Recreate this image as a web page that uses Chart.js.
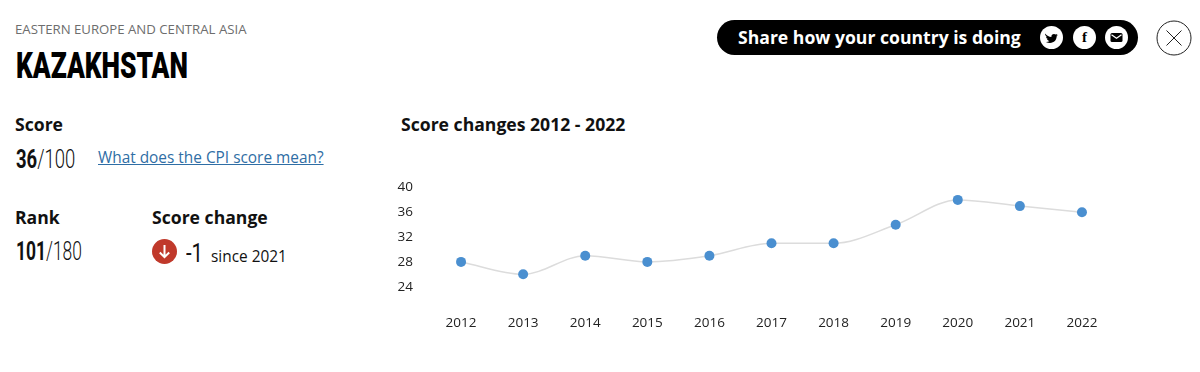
<!DOCTYPE html>
<html lang="en">
<head>
  <meta charset="UTF-8" />
  <title>Kazakhstan - CPI score</title>
  <script src="https://cdn.jsdelivr.net/npm/chart.js"></script>
  <style>
    html, body { margin: 0; padding: 0; background: #fff; }
    body { position: relative; width: 1200px; height: 372px; overflow: hidden; font-family: "Open Sans", sans-serif; color: #111; }
    .abs { position: absolute; white-space: nowrap; line-height: 1; }
    .head { font-weight: 700; font-size: 17.600px; }
    /* no condensed font installed, so squeeze Roboto sideways */
    .narrow { font-family: Roboto, sans-serif; transform-origin: left top; }
    .big { font-size: 26px; font-weight: 300; }
    .big b { font-weight: 700; }
    #chart-box { position: absolute; left: 395px; top: 170px; width: 723px; height: 170px; }
    #share { position: absolute; left: 717px; top: 20px; width: 421px; height: 35px; background: #000; border-radius: 18px; }
    #share span { position: absolute; left: 21px; top: 7px; color: #fff; font-weight: 700; font-size: 17.600px; line-height: 21px; white-space: nowrap; }
    .icon { position: absolute; top: 6px; width: 23px; height: 23px; border-radius: 50%; background: #fff; }
  </style>
</head>
<body>
  <!-- Header -->
  <div class="abs" style="left:15px;top:23px;font-size:13.200px;color:#6d6d6d;">EASTERN EUROPE AND CENTRAL ASIA</div>
  <div class="abs narrow" style="left:16px;top:47px;font-size:37px;font-weight:900;color:#000;transform:scaleX(0.71);">KAZAKHSTAN</div>

  <!-- Share button -->
  <div id="share">
    <span>Share how your country is doing</span>
    <div class="icon" style="left:323px;">
      <svg width="23" height="23" viewBox="0 0 23 23"><path d="M5 7.500c2 2.200 4 3.300 6.400 3.400-.4-2.400 2.600-4 4.300-2.300l1.800-.6-1 1.600 1.300-.3-1.200 1.300c.1 4.200-4.300 8.300-10.800 5.400 1.500.1 2.700-.3 3.700-1.100-1.300-.1-2.100-.7-2.500-1.800h1.100c-1.300-.5-2-1.400-2-2.700l1.100.3C5.400 9.900 5 8.800 5 7.500z" fill="#000"/></svg>
    </div>
    <div class="icon" style="left:356px;">
      <div style="text-align:center;font:700 15px/23px 'Liberation Serif',serif;color:#000;">f</div>
    </div>
    <div class="icon" style="left:388px;">
      <svg width="23" height="23" viewBox="0 0 23 23"><rect x="5.500" y="7" width="12" height="9" rx="1.500" fill="#000"/><path d="M6.500 8.800l5 3.500 5-3.500" fill="none" stroke="#fff" stroke-width="1.300"/></svg>
    </div>
  </div>
  <svg class="abs" style="left:1155.500px;top:19.500px;" width="36" height="36" viewBox="0 0 36 36">
    <circle cx="18" cy="18" r="17" fill="#fff" stroke="#222" stroke-width="1"/>
    <path d="M10.500 10.500l15 15M25.500 10.500l-15 15" stroke="#222" stroke-width="1" fill="none"/>
  </svg>

  <!-- Left column -->
  <div class="abs head" style="left:15px;top:116px;">Score</div>
  <div class="abs narrow big" style="left:16px;top:146px;transform:scaleX(0.71);"><b>36</b>/100</div>
  <a class="abs" style="left:98px;top:150px;font-size:15.400px;color:#2f6ea5;text-decoration:underline;">What does the CPI score mean?</a>

  <div class="abs head" style="left:15px;top:209px;">Rank</div>
  <div class="abs narrow big" style="left:16px;top:238px;transform:scaleX(0.67);"><b>101</b>/180</div>

  <div class="abs head" style="left:152px;top:209px;">Score change</div>
  <svg class="abs" style="left:152px;top:239px;" width="25" height="25" viewBox="0 0 25 25">
    <circle cx="12.500" cy="12.500" r="12.500" fill="#c0392b"/>
    <path d="M12.500 6v12M7.800 13.500l4.700 4.700 4.700-4.700" stroke="#fff" stroke-width="2" fill="none"/>
  </svg>
  <div class="abs narrow" style="left:186px;top:240px;font-size:26px;transform:scaleX(0.78);">-1</div>
  <div class="abs" style="left:211px;top:249px;font-size:15.400px;">since 2021</div>

  <!-- Chart -->
  <div class="abs head" style="left:401px;top:116px;">Score changes 2012 - 2022</div>
  <div id="chart-box"><canvas id="score-chart"></canvas></div>

  <script>
    const years = ['2012', '2013', '2014', '2015', '2016', '2017', '2018', '2019', '2020', '2021', '2022'];
    const scores = [28, 26, 29, 28, 29, 31, 31, 34, 38, 37, 36];
    const yTicks = [24, 28, 32, 36, 40];

    new Chart(document.getElementById('score-chart'), {
      type: 'line',
      data: {
        labels: years,
        datasets: [{
          label: 'Score',
          data: scores,
          borderColor: '#dcdcdc',
          borderWidth: 1.5,
          backgroundColor: '#4a8fd0',
          pointBackgroundColor: '#4a8fd0',
          pointBorderWidth: 0,
          pointRadius: 5,
          cubicInterpolationMode: 'monotone',
          fill: false
        }]
      },
      options: {
        responsive: true,
        maintainAspectRatio: false,
        animation: false,
        layout: { padding: { top: 17.5, right: 5, bottom: 0, left: 0 } },
        plugins: { legend: { display: false }, tooltip: { enabled: false } },
        scales: {
          x: {
            offset: true,
            grid: { display: false, tickLength: 0 },
            border: { display: false },
            afterFit: (axis) => { axis.height = 28.5; },
            ticks: {
              color: '#222',
              font: { family: 'Open Sans', size: 13.5 },
              padding: 4,
              maxRotation: 0,
              autoSkip: false
            }
          },
          y: {
            min: 20,
            max: 40,
            grid: { display: false },
            border: { display: false },
            afterFit: (axis) => { axis.width = 35; },
            afterBuildTicks: (axis) => { axis.ticks = yTicks.map((v) => ({ value: v })); },
            ticks: {
              color: '#222',
              font: { family: 'Open Sans', size: 13.5 },
              padding: 9
            }
          }
        }
      }
    });
  </script>
</body>
</html>
